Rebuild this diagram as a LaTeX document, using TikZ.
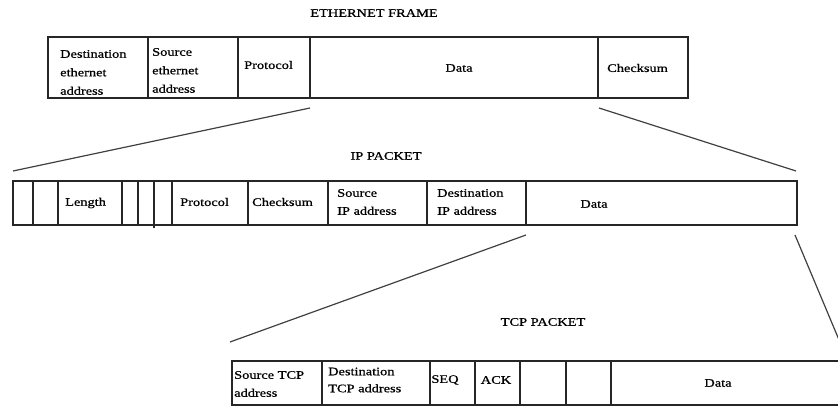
\documentclass[tikz,border=0pt]{standalone}
\usepackage{fontspec}
\newfontfamily\figfont[FakeStretch=1.25,FakeBold=0.8]{Liberation Serif}
\usetikzlibrary{calc}
\tikzset{
  cell/.style={draw=black!85, line width=1.6pt, inner sep=0pt, outer sep=0pt},
  txt/.style={font=\figfont\fontsize{11.5}{18.5}\selectfont, inner sep=0pt, align=left, text=black},
  ttl/.style={font=\figfont\fontsize{11.5}{14}\selectfont, inner sep=0pt, text=black},
  link/.style={draw=black!75, line width=1.2pt}
}
\newcommand\fcell[5]{\node[cell,minimum width={(#3)-(#2)},minimum height={(#5)-(#4)}] (#1) at ({((#2)+(#3))/2},{((#4)+(#5))/2}) {};}
\begin{document}
\begin{tikzpicture}[x=1pt,y=-1pt]
\useasboundingbox (0,0) rectangle (838,406);
\clip (0,0) rectangle (838,406);
% Ethernet frame
\fcell{e1}{48}{148}{37}{98}
\fcell{e2}{148}{238}{37}{98}
\fcell{e3}{238}{310}{37}{98}
\fcell{eData}{310}{598}{37}{98}
\fcell{eCk}{598}{688}{37}{98}
\node[ttl] (etitle) at (374,13) {ETHERNET FRAME};
\node[txt,anchor=west] (t1) at (60,72.5) {Destination\\ethernet\\address};
\node[txt,anchor=west] (t2) at (152,70.5) {Source\\ethernet\\address};
\node[txt,anchor=west] (t3) at (244,65) {Protocol};
\node[txt] (t4) at (459,68) {Data};
\node[txt,anchor=west] (t5) at (607,68) {Checksum};
% IP packet
\fcell{i1}{13}{33}{181}{225}
\fcell{i2}{33}{58}{181}{225}
\fcell{i3}{58}{122}{181}{225}
\fcell{i4}{122}{138}{181}{225}
\fcell{i5}{138}{154}{181}{225}
\fcell{i6}{154}{172}{181}{225}
\fcell{i7}{172}{248}{181}{225}
\fcell{i8}{248}{328}{181}{225}
\fcell{i9}{328}{427}{181}{225}
\fcell{i10}{427}{526}{181}{225}
\fcell{iData}{526}{797}{181}{225}
\draw[cell] (i6.south west) -- ++(0,3);
\node[ttl] (ititle) at (386,156) {IP PACKET};
\node[txt,anchor=west] (u1) at (65,203) {Length};
\node[txt,anchor=west] (u2) at (180,202) {Protocol};
\node[txt,anchor=west] (u3) at (252,202) {Checksum};
\node[txt,anchor=west,font=\figfont\fontsize{11.5}{18}\selectfont] (u4) at (337,202) {Source\\IP address};
\node[txt,anchor=west,font=\figfont\fontsize{11.5}{18}\selectfont] (u5) at (437,202) {Destination\\IP address};
\node[txt] (u6) at (594,204) {Data};
% TCP packet
\fcell{c1}{232}{322}{361}{405}
\fcell{c2}{322}{430}{361}{405}
\fcell{c3}{430}{475}{361}{405}
\fcell{c4}{475}{520}{361}{405}
\fcell{c5}{520}{566}{361}{405}
\fcell{c6}{566}{611}{361}{405}
\fcell{cData}{611}{846}{361}{405}
\node[ttl] (ctitle) at (543,322) {TCP PACKET};
\node[txt,anchor=west,font=\figfont\fontsize{11.5}{18}\selectfont] (v1) at (234,384) {Source TCP\\address};
\node[txt,anchor=west,font=\figfont\fontsize{11.5}{17}\selectfont] (v2) at (328,380) {Destination\\TCP address};
\node[txt] (v3) at (445,380) {SEQ};
\node[txt] (v4) at (496,380) {ACK};
\node[txt] (v5) at (718,383) {Data};
% connectors
\coordinate (tcpEnd) at (842,347);
\draw[link] ($(eData.south west)+(0,10)$) -- ($(i1.north west)+(0,-10)$);
\draw[link] ($(eCk.south west)+(1,10)$) -- ($(iData.north east)+(-1,-10)$);
\draw[link] ($(iData.south west)+(0,10)$) -- ($(c1.north west)+(-2,-19)$);
\draw[link] ($(iData.south east)+(-2,10)$) -- (tcpEnd);
\end{tikzpicture}
\end{document}
